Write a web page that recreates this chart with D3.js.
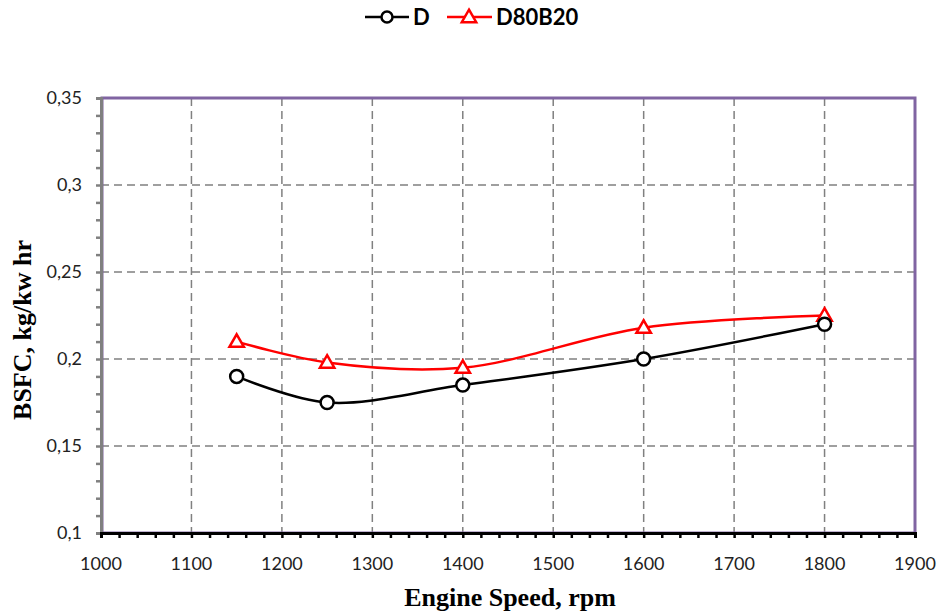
<!DOCTYPE html>
<html><head><meta charset="utf-8">
<script src="https://cdn.jsdelivr.net/npm/d3@7"></script>
<style>body{margin:0;background:#fff}</style>
</head><body>
<svg id="c" width="942" height="615"></svg>
<script>
const speeds = [1150, 1250, 1400, 1600, 1800];
const seriesD = [0.19, 0.175, 0.185, 0.2, 0.22];
const seriesD80B20 = [0.21, 0.198, 0.195, 0.218, 0.225];
const xTicks = [1000,1100,1200,1300,1400,1500,1600,1700,1800,1900];
const yTicks = [0.1,0.15,0.2,0.25,0.3,0.35];
const yTickLabels = ["0,1","0,15","0,2","0,25","0,3","0,35"];

const svg = d3.select("#c");
const L=101, R=915, T=98, B=533;
const x = d3.scaleLinear().domain([1000,1900]).range([L,R]);
const y = d3.scaleLinear().domain([0.1,0.35]).range([B,T]);

// grid
const g = svg.append("g");
g.selectAll(".gx").data(xTicks.slice(1,-1)).join("line")
  .attr("x1",d=>x(d)).attr("x2",d=>x(d)).attr("y1",T).attr("y2",B)
  .attr("stroke","#808080").attr("stroke-width",1.5).attr("stroke-dasharray","8,5");
g.selectAll(".gy").data(yTicks.slice(1,-1)).join("line")
  .attr("x1",L).attr("x2",R).attr("y1",d=>y(d)).attr("y2",d=>y(d))
  .attr("stroke","#808080").attr("stroke-width",1.5).attr("stroke-dasharray","8,5");

// purple border
svg.append("rect").attr("x",L+1).attr("y",T).attr("width",R-L-1).attr("height",B-T)
  .attr("fill","none").attr("stroke","#8064a2").attr("stroke-width",3);

// y axis
const yMinor = d3.range(0.1,0.3501,0.01);
const yAx = svg.append("g").attr("transform",`translate(${L},0)`)
  .call(d3.axisLeft(y).tickValues(yMinor).tickSize(5).tickFormat(""));
yAx.select(".domain").attr("stroke","#808080").attr("stroke-width",3);
yAx.selectAll(".tick line").attr("stroke","#808080").attr("stroke-width",2.5);
svg.append("g").selectAll("text").data(yTicks).join("text")
  .attr("x",82).attr("y",d=>y(d)+6).attr("text-anchor","end")
  .attr("font-family","Lato, 'Open Sans', sans-serif").attr("font-size",18).attr("fill","#222")
  .text((d,i)=>yTickLabels[i]);

// x axis
const xMinor = d3.range(1000,1901,20);
const xAx = svg.append("g").attr("transform",`translate(0,${B})`)
  .call(d3.axisBottom(x).tickValues(xMinor).tickSize(5).tickFormat(""));
xAx.select(".domain").attr("stroke","#000").attr("stroke-width",3);
xAx.selectAll(".tick line").attr("stroke","#000").attr("stroke-width",2.5);
svg.append("g").selectAll("text").data(xTicks).join("text")
  .attr("x",d=>x(d)).attr("y",570).attr("text-anchor","middle")
  .attr("font-family","Lato, 'Open Sans', sans-serif").attr("font-size",18).attr("fill","#222")
  .text(d=>d);

// titles
svg.append("text").attr("x",510).attr("y",606).attr("text-anchor","middle")
  .attr("font-family","'Liberation Serif', serif").attr("font-weight","bold").attr("font-size",26)
  .text("Engine Speed, rpm");
svg.append("text").attr("transform","translate(31,330) rotate(-90)").attr("text-anchor","middle")
  .attr("font-family","'Liberation Serif', serif").attr("font-weight","bold").attr("font-size",26)
  .text("BSFC, kg/kw hr");

// lines
const line = d3.line().x(d=>x(d[0])).y(d=>y(d[1])).curve(d3.curveCatmullRom.alpha(0.5));
const dD = speeds.map((s,i)=>[s,seriesD[i]]);
const dB = speeds.map((s,i)=>[s,seriesD80B20[i]]);
svg.append("path").attr("d",line(dB)).attr("fill","none").attr("stroke","#ff0000").attr("stroke-width",2.5);
svg.append("path").attr("d",line(dD)).attr("fill","none").attr("stroke","#000").attr("stroke-width",2.5);

const tri = d3.symbol().type(d3.symbolTriangle).size(90);
svg.append("g").selectAll("path").data(dB).join("path")
  .attr("d",tri).attr("transform",d=>`translate(${x(d[0])},${y(d[1])+1})`)
  .attr("fill","#fff").attr("stroke","#ff0000").attr("stroke-width",2.5);
svg.append("g").selectAll("circle").data(dD).join("circle")
  .attr("cx",d=>x(d[0])).attr("cy",d=>y(d[1])).attr("r",6.5)
  .attr("fill","#fff").attr("stroke","#000").attr("stroke-width",2.5);

// legend
const lg = svg.append("g");
lg.append("line").attr("x1",365).attr("x2",409).attr("y1",17).attr("y2",17).attr("stroke","#000").attr("stroke-width",2.5);
lg.append("circle").attr("cx",387).attr("cy",17).attr("r",5.5).attr("fill","#fff").attr("stroke","#000").attr("stroke-width",2.5);
lg.append("text").attr("x",413).attr("y",25).attr("font-family","Lato, 'Open Sans', sans-serif").attr("font-weight","bold").attr("font-size",22).text("D");
lg.append("line").attr("x1",447).attr("x2",492).attr("y1",17).attr("y2",17).attr("stroke","#ff0000").attr("stroke-width",2.5);
lg.append("path").attr("d",tri).attr("transform","translate(469,18)").attr("fill","#fff").attr("stroke","#ff0000").attr("stroke-width",2.5);
lg.append("text").attr("x",496).attr("y",25).attr("font-family","Lato, 'Open Sans', sans-serif").attr("font-weight","bold").attr("font-size",22).text("D80B20");
</script>
</body></html>
